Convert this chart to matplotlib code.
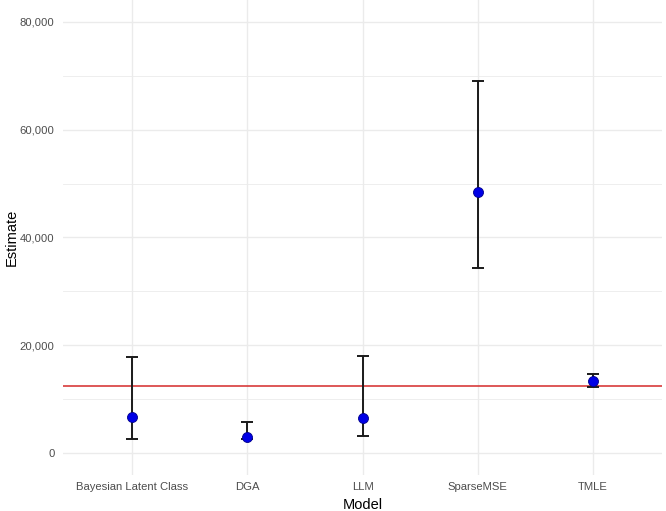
import matplotlib
matplotlib.use("Agg")
import matplotlib.pyplot as plt
from matplotlib.ticker import FuncFormatter, MultipleLocator

# ---- data ----
models = ["Bayesian Latent Class", "DGA", "LLM", "SparseMSE", "TMLE"]
estimate = [6700, 3000, 6500, 48500, 13500]
lower = [2700, 2600, 3200, 34400, 12300]
upper = [17900, 5800, 18000, 69000, 14800]
reference_value = 12500

plt.rcParams['font.family'] = ['Liberation Sans', 'DejaVu Sans']

fig = plt.figure(figsize=(6.66, 5.11), dpi=100)
ax = fig.add_axes([63/666, 36/511, 599/666, 475/511])

x = list(range(len(models)))

# grid like theme_minimal
ax.set_axisbelow(True)
ax.yaxis.set_major_locator(MultipleLocator(20000))
ax.yaxis.set_minor_locator(MultipleLocator(10000))
ax.grid(True, which='major', color='#EBEBEB', linewidth=1.0)
ax.grid(True, which='minor', axis='y', color='#EBEBEB', linewidth=0.6)

ax.axhline(reference_value, color='#D42A2A', linewidth=1.1, zorder=2)

yerr = [[e - l for e, l in zip(estimate, lower)],
        [u - e for e, u in zip(estimate, upper)]]
ax.errorbar(x, estimate, yerr=yerr, fmt='none', ecolor='#1a1a1a',
            elinewidth=1.4, capsize=4, capthick=1.4, zorder=3)
ax.plot(x, estimate, 'o', color='#0000E6', markeredgecolor='#00008B',
        markeredgewidth=0.6, markersize=7.2, zorder=4)

ax.set_xlim(-0.6, len(models) - 0.4)
ax.set_ylim(-4000, 84000)
ax.set_xticks(x)
ax.set_xticklabels(models)
ax.yaxis.set_major_formatter(FuncFormatter(lambda v, p: f"{int(v):,}"))

for s in ax.spines.values():
    s.set_visible(False)
ax.tick_params(which='both', length=0, labelsize=8.1, labelcolor='#4D4D4D')
ax.tick_params(axis='x', pad=5)
ax.tick_params(axis='y', pad=6)

ax.set_xlabel("Model", fontsize=10.5, labelpad=4.5)
ax.set_ylabel("Estimate", fontsize=10.5, va='center')
ax.yaxis.set_label_coords(12/666, 1 - 237/511, transform=fig.transFigure)

fig.savefig("out.png", dpi=100)
